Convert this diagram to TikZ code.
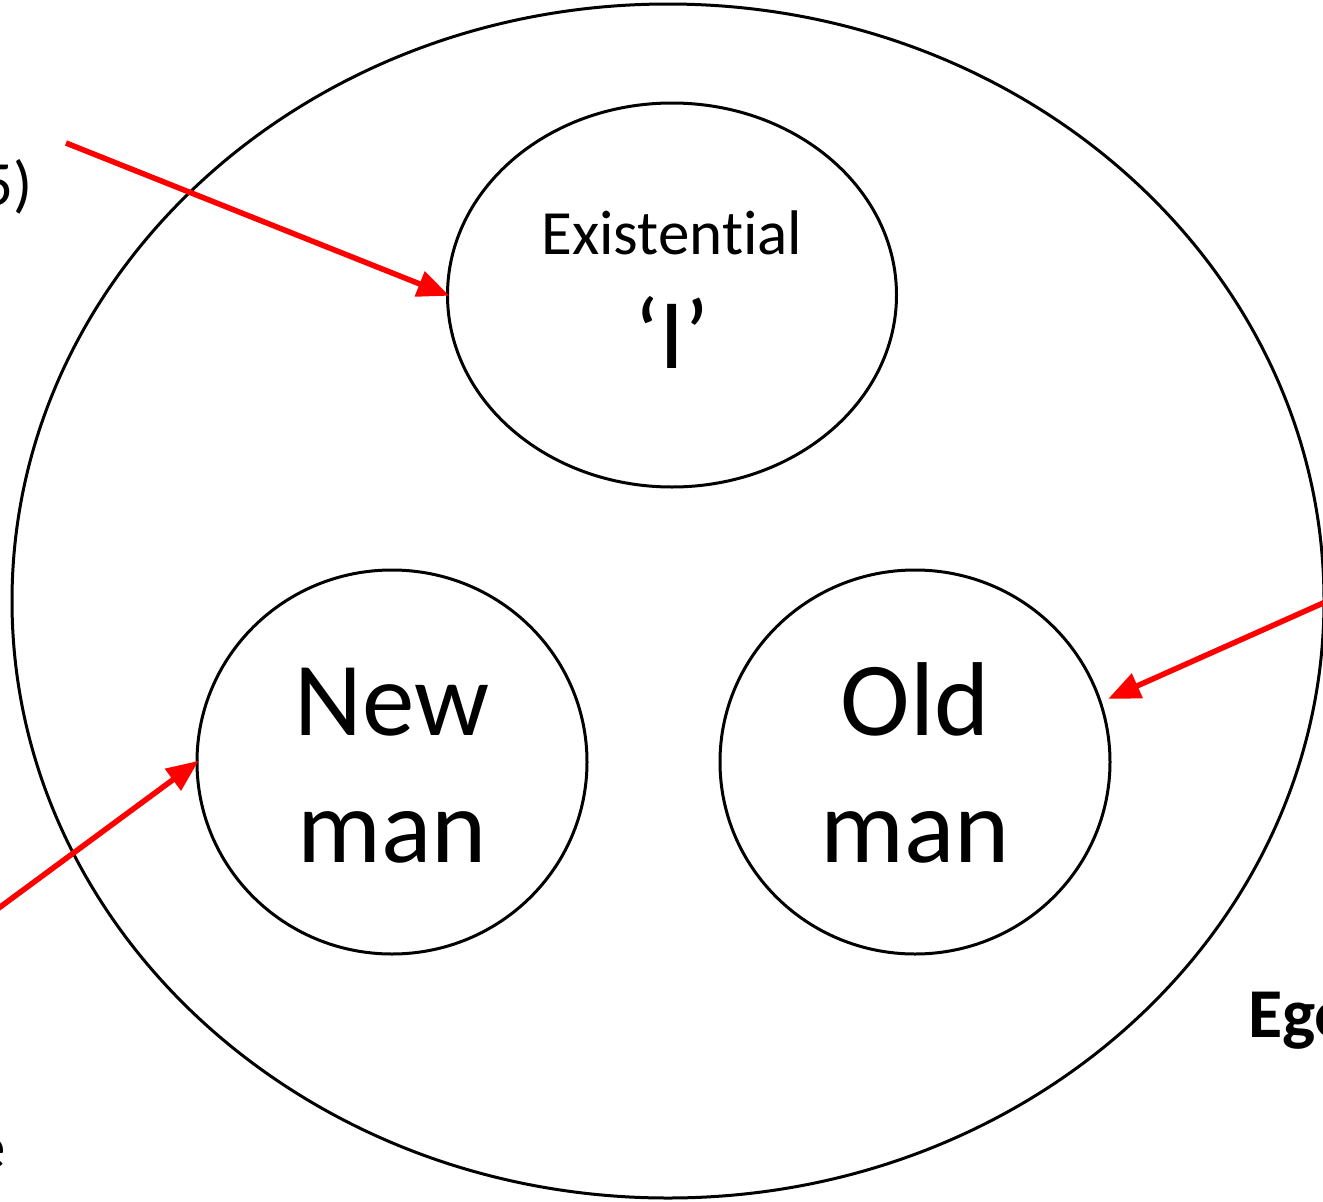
\documentclass[tikz,border=0pt]{standalone}
\usepackage{fontspec}
\setmainfont{Carlito}[Ligatures=NoCommon]
\usetikzlibrary{shapes.geometric,arrows.meta,calc}
\begin{document}
\begin{tikzpicture}[x=1pt,y=-1pt,
  outline/.style={draw=black,line width=3pt,ellipse,inner sep=0pt,outer sep=0pt},
  redarrow/.style={draw=red,line width=5.5pt,-{Triangle[length=32pt,width=26pt]},shorten >=-2pt},
  txt/.style={inner sep=0pt,anchor=base}]
\useasboundingbox (0,0) rectangle (1323,1202);
\clip (0,0) rectangle (1323,1202);
\node[outline,minimum width=1312pt,minimum height=1194pt] (ego) at (668,601) {};
\node[outline,minimum width=449pt,minimum height=384pt] (exist) at (672,295) {};
\node[outline,minimum width=390pt,minimum height=384pt] (new) at (392,762) {};
\node[outline,minimum width=390pt,minimum height=384pt] (old) at (915,762) {};
% texts
\node[txt] (t1) at (672,254) {\fontsize{63}{70}\selectfont Existential};
\node[txt] (t2) at (672,368) {\fontsize{100}{110}\selectfont ‘I’};
\node[txt] (t3) at (392,735) {\fontsize{105}{120}\selectfont New};
\node[txt] (t4) at (392,862) {\fontsize{105}{120}\selectfont man};
\node[txt] (t5) at (915,735) {\fontsize{105}{120}\selectfont Old};
\node[txt] (t6) at (915,862) {\fontsize{105}{120}\selectfont man};
\node[txt,anchor=base east] (t7) at (33,205) {\fontsize{63}{70}\selectfont 5)};
\node[txt,anchor=base west] (t8) at (1248,1037) {\fontsize{70}{80}\selectfont\bfseries Ego};
\node[txt,anchor=base east] (t9) at (6,1168) {\fontsize{63}{70}\selectfont e};
% arrows
\coordinate (a1) at (66,143);
\coordinate (a2) at (1330,600);
\coordinate (a3) at (-8,913);
\draw[redarrow] (a1) -- (exist.west);
\draw[redarrow] (a2) -- ($(old.center)+(195,-64)$);
\draw[redarrow] (a3) -- (new.180);
\end{tikzpicture}
\end{document}
